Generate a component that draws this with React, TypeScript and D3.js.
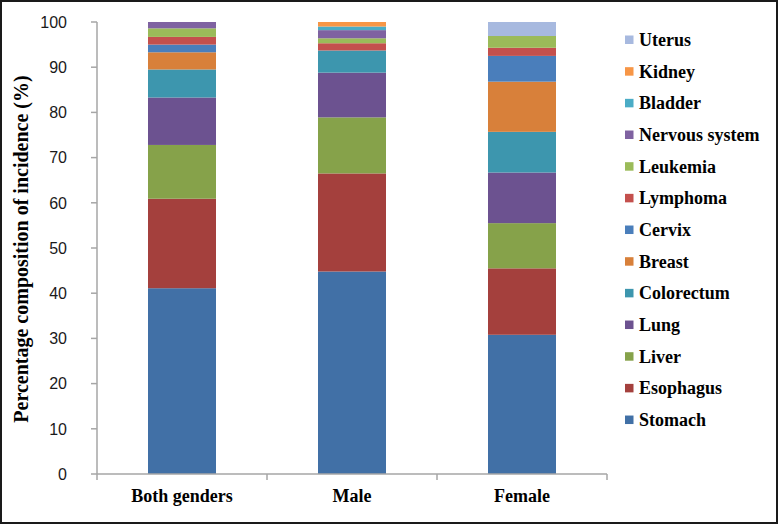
import React from "react";
import * as d3 from "d3";

const categories = ["Both genders", "Male", "Female"];
const seriesNames = [
  "Stomach", "Esophagus", "Liver", "Lung", "Colorectum", "Breast", "Cervix",
  "Lymphoma", "Leukemia", "Nervous system", "Bladder", "Kidney", "Uterus",
];
const bothValues = [41.1, 19.8, 11.9, 10.5, 6.2, 3.8, 1.7, 1.7, 1.9, 1.4, 0, 0, 0];
const maleValues = [44.8, 21.7, 12.4, 9.9, 4.9, 0, 0, 1.6, 1.1, 1.8, 0.8, 1.0, 0];
const femaleValues = [30.8, 14.7, 10.0, 11.2, 9.0, 11.1, 5.7, 1.8, 2.6, 0, 0, 0, 3.1];
const yTicks = [0, 10, 20, 30, 40, 50, 60, 70, 80, 90, 100];
const colors = [
  "#4170A6", "#A4403D", "#86A24A", "#6C5290", "#3D96AE", "#D8803A", "#4A7EBB",
  "#C4504D", "#9BBB59", "#7F62A1", "#4BACC6", "#F79646", "#A7B9DF",
];

const W = 780, H = 525;
const left = 97, right = 607, top = 22, bottom = 474;
const serif = "'Liberation Serif', 'Times New Roman', serif";

export default function App() {
  const valuesByCat = [bothValues, maleValues, femaleValues];
  const rows = categories.map((c, i) => {
    const r: any = { cat: c };
    seriesNames.forEach((s, j) => (r[s] = valuesByCat[i][j]));
    return r;
  });
  const stack = d3.stack<any>().keys(seriesNames)(rows);
  const x = d3.scaleBand().domain(categories).range([left, right]).paddingInner(0.6).paddingOuter(0.3);
  const y = d3.scaleLinear().domain([0, 100]).range([bottom, top]);
  const band = (right - left) / categories.length;
  const legendTop = 40;
  const legendStep = 31.67;

  return (
    <svg width={W} height={H} style={{ position: "absolute", left: 0, top: 0, background: "#fff" }}>
      <rect x={0} y={0} width={W} height={H} fill="#fff" />
      {stack.map((layer, li) => (
        <g key={seriesNames[li]} fill={colors[li]}>
          {layer.map((d, i) =>
            d[1] - d[0] > 0 ? (
              <rect
                key={i}
                x={x(categories[i])}
                width={x.bandwidth()}
                y={y(d[1])}
                height={y(d[0]) - y(d[1])}
              />
            ) : null
          )}
        </g>
      ))}
      {/* y axis */}
      <line x1={left} x2={left} y1={top} y2={bottom} stroke="#A6A6A6" strokeWidth={1.5} />
      {yTicks.map((t) => (
        <g key={t}>
          <line x1={left - 6} x2={left} y1={y(t)} y2={y(t)} stroke="#A6A6A6" strokeWidth={1.5} />
          <text
            x={67}
            y={y(t)}
            dy="0.36em"
            textAnchor="end"
            fontFamily="'Liberation Sans', Arial, sans-serif"
            fontSize={16}
            fill="#1a1a1a"
          >
            {t}
          </text>
        </g>
      ))}
      {/* x axis */}
      <line x1={left} x2={right} y1={bottom} y2={bottom} stroke="#A6A6A6" strokeWidth={1.5} />
      {d3.range(categories.length + 1).map((i) => (
        <line key={i} x1={left + i * band} x2={left + i * band} y1={bottom} y2={bottom + 6} stroke="#A6A6A6" strokeWidth={1.5} />
      ))}
      {categories.map((c) => (
        <text
          key={c}
          x={(x(c) as number) + x.bandwidth() / 2}
          y={502}
          textAnchor="middle"
          fontFamily={serif}
          fontWeight="bold"
          fontSize={18}
          fill="#000"
        >
          {c}
        </text>
      ))}
      <text
        transform={`translate(28, 249) rotate(-90)`}
        textAnchor="middle"
        fontFamily={serif}
        fontWeight="bold"
        fontSize={20}
        fill="#000"
      >
        Percentage composition of incidence (%)
      </text>
      {/* legend, top to bottom reversed order */}
      {seriesNames
        .map((s, i) => ({ s, i }))
        .reverse()
        .map(({ s, i }, k) => (
          <g key={s} transform={`translate(625, ${legendTop + k * legendStep})`}>
            <rect x={0} y={-4.5} width={8.5} height={8.5} fill={colors[i]} />
            <text x={14} y={0} dy="0.33em" fontFamily={serif} fontWeight="bold" fontSize={18} fill="#000">
              {s}
            </text>
          </g>
        ))}
      <rect x={1} y={1} width={W - 4} height={H - 3} fill="none" stroke="#1a1a1a" strokeWidth={2} />
    </svg>
  );
}
